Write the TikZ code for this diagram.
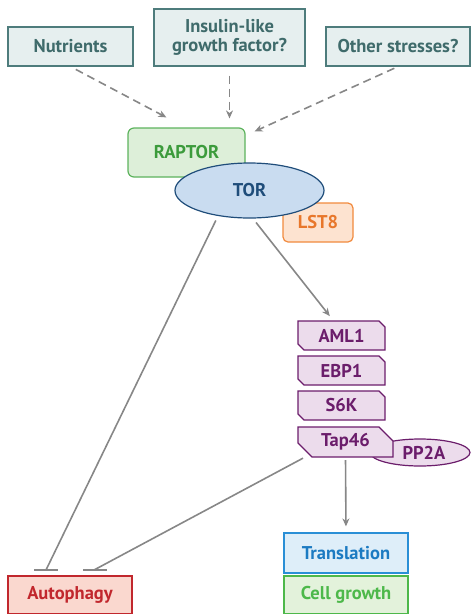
\documentclass[tikz,border=0pt]{standalone}
\usepackage{fontspec}
\setmainfont{PT Sans}
\usetikzlibrary{calc,arrows.meta,shapes.geometric}

\definecolor{tealline}{HTML}{4E7C7C}
\definecolor{tealfill}{HTML}{E6EFEF}
\definecolor{tealtext}{HTML}{3F6B6B}
\definecolor{raptorline}{HTML}{5DB35D}
\definecolor{raptorfill}{HTML}{DDEFD9}
\definecolor{raptortext}{HTML}{3C9B3C}
\definecolor{torline}{HTML}{1F4D7A}
\definecolor{torfill}{HTML}{C9DCF0}
\definecolor{lstline}{HTML}{F18A3E}
\definecolor{lstfill}{HTML}{FDE3D0}
\definecolor{lsttext}{HTML}{E8772B}
\definecolor{purpline}{HTML}{6B1D6B}
\definecolor{purpfill}{HTML}{ECDCEC}
\definecolor{transline}{HTML}{2A8FD6}
\definecolor{transfill}{HTML}{DEEEF9}
\definecolor{transtext}{HTML}{1C7BC2}
\definecolor{growline}{HTML}{4DB84A}
\definecolor{growfill}{HTML}{E3F2DB}
\definecolor{autoline}{HTML}{C1272D}
\definecolor{autofill}{HTML}{FAD8CF}
\definecolor{arrowgray}{HTML}{878787}

\tikzset{
	boxfont/.style={font=\bfseries\fontsize{18.5}{19}\selectfont, align=center, inner sep=0pt},
	inputbox/.style={boxfont, draw=tealline, fill=tealfill, text=tealtext, line width=1.2pt},
	purpbox/.style={draw=purpline, fill=purpfill, line width=1.2pt},
	purptext/.style={boxfont, text=purpline},
	signal/.style={arrowgray, line width=1.6pt, dash pattern=on 8pt off 5pt, -{Stealth[length=8pt,width=7pt]}},
	activ/.style={arrowgray, line width=1.6pt, -{Stealth[length=8pt,width=7pt]}},
	inhib/.style={arrowgray, line width=1.6pt},
	inhibbar/.style={arrowgray, line width=1.8pt}
}

% name, centre, half width, half height, chamfer, text
\newcommand{\chambox}[6]{
	\draw[purpbox] ($(#2)+(-#3,-#4)$) -- ($(#2)+(#3-#5,-#4)$) -- ($(#2)+(#3,-#4+#5)$) -- ($(#2)+(#3,#4)$) -- ($(#2)+(-#3+#5,#4)$) -- ($(#2)+(-#3,#4-#5)$) -- cycle;
	\node[purptext, minimum width=2*#3, minimum height=2*#4] (#1) at (#2) {#6};
}

\begin{document}
\begin{tikzpicture}[x=1pt,y=-1pt]
	\useasboundingbox (0,0) rectangle (472,614);
	%%%%% INPUTS %%%%%
	\node[inputbox, minimum width=125, minimum height=39] (nut) at (70.5,46.5) {Nutrients};
	\node[inputbox, minimum width=151, minimum height=57] (igf) at (229.5,37.5) {Insulin-like\\growth factor?};
	\node[inputbox, minimum width=144, minimum height=39] (oth) at (398,46.5) {Other stresses?};
	
	%%%%% TOR COMPLEX %%%%%
	\node[boxfont, draw=raptorline, fill=raptorfill, text=raptortext, line width=1.2pt, rounded corners=6pt, minimum width=117, minimum height=49] (raptor) at (186.5,152.5) {\raisebox{-2pt}{RAPTOR}};
	\node[boxfont, draw=lstline, fill=lstfill, text=lsttext, line width=1.2pt, rounded corners=5pt, minimum width=70, minimum height=39] (lst) at (318,222.5) {\raisebox{-3pt}{LST8}};
	\node[boxfont, ellipse, draw=torline, fill=torfill, text=torline, line width=1.2pt, minimum width=149, minimum height=55] (tor) at (249.5,190.5) {TOR};
	
	%%%%% TARGETS %%%%%
	\chambox{aml}{341.5,335.5}{43.5}{14.5}{6}{AML1}
	\chambox{ebp}{341.5,370.5}{43.5}{14.5}{6}{EBP1}
	\chambox{sk}{341.5,405.5}{43.5}{14.5}{6}{S6K}
	\node[boxfont, ellipse, draw=purpline, fill=purpfill, text=purpline, line width=1.2pt, minimum width=100, minimum height=27] (pp) at (420,452.5) {\hspace{8pt}PP2A};
	\chambox{tap}{345.5,442}{47.5}{15}{14}{Tap46}
	
	%%%%% OUTPUTS %%%%%
	\node[boxfont, draw=transline, fill=transfill, text=transtext, line width=1.2pt, minimum width=124, minimum height=40] (trans) at (346,553) {Translation};
	\node[boxfont, draw=growline, fill=growfill, text=growline, line width=1.2pt, minimum width=124, minimum height=38] (grow) at (346,595) {Cell growth};
	\node[boxfont, draw=autoline, fill=autofill, text=autoline, line width=1.2pt, minimum width=124, minimum height=38] (auto) at (70,595) {Autophagy};
	
	\coordinate (barA) at (46,570);
	\coordinate (barB) at (94,570);
	
	%%%%% CONNECTORS %%%%%
	\draw[signal, shorten <=6pt] (nut.south) -- ([shift={(39,-10)}]raptor.north west);
	\draw[signal, shorten <=9pt, shorten >=9pt] (igf.south) -- (igf.south |- raptor.north);
	\draw[signal, shorten <=4pt] (oth.south) -- ([shift={(9,4)}]raptor.north east);
	\draw[inhib, shorten <=5pt] (tor.219) -- (barA);
	\draw[inhibbar] ([xshift=-12pt]barA) -- ([xshift=12pt]barA);
	\draw[activ, shorten <=5pt, shorten >=6pt] (tor.-83) -- ([xshift=-8pt]aml.north);
	\draw[inhib, shorten <=2pt] ([shift={(7,0)}]tap.south west) -- (barB);
	\draw[inhibbar] ([xshift=-11pt]barB) -- ([xshift=13pt]barB);
	\draw[activ, shorten <=3pt, shorten >=6pt] (tap.south) -- (trans.north);
\end{tikzpicture}
\end{document}
